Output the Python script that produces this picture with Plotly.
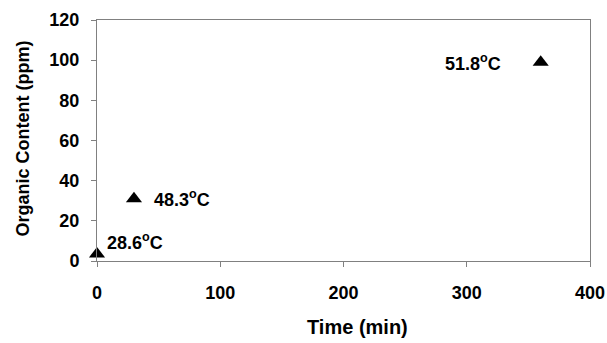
import plotly.graph_objects as go

time_min = [0, 30, 360]
organic_ppm = [3.5, 31, 99]
temp_labels = ["28.6<sup>o</sup>C", "48.3<sup>o</sup>C", "51.8<sup>o</sup>C"]
x_ticks = [0, 100, 200, 300, 400]
y_ticks = [0, 20, 40, 60, 80, 100, 120]

FONT = "Liberation Sans"
FS = 18

fig = go.Figure()
fig.add_trace(go.Scatter(
    x=time_min, y=organic_ppm, mode="markers",
    marker=dict(symbol="triangle-up", size=14, color="black"),
    showlegend=False, cliponaxis=False,
))

# label placement (pixel offsets relative to points)
offsets = [(8, 12, "left"), (18, 0, "left"), (-38, 0, "right")]
for x, y, t, (dx, dy, anc) in zip(time_min, organic_ppm, temp_labels, offsets):
    fig.add_annotation(x=x, y=y, text="<b>" + t + "</b>", showarrow=False,
                       xanchor=anc, yanchor="middle", xshift=dx, yshift=dy,
                       font=dict(family=FONT, size=FS, color="black"))

# axis titles as annotations
fig.add_annotation(x=0.5, y=0, xref="paper", yref="paper", text="<b>Time (min)</b>",
                   showarrow=False, xanchor="center", yanchor="middle",
                   xshift=14, yshift=-66, font=dict(family=FONT, size=20, color="black"))
fig.add_annotation(x=0, y=0.5, xref="paper", yref="paper", text="<b>Organic Content (ppm)</b>",
                   showarrow=False, xanchor="center", yanchor="middle", textangle=-90,
                   xshift=-75, yshift=2, font=dict(family=FONT, size=FS, color="black"))

axis_common = dict(
    showline=True, linecolor="#808080", linewidth=1, mirror=True,
    ticks="outside", ticklen=5, tickcolor="#808080", showgrid=False, zeroline=False,
    tickfont=dict(family=FONT, size=FS, color="black", weight="bold"),
    automargin=False,
)

fig.update_xaxes(range=[0, 400], tickvals=x_ticks, ticklabelstandoff=10, **axis_common)
fig.update_yaxes(range=[0, 120], tickvals=y_ticks, ticklabelstandoff=8, **axis_common)

fig.update_layout(
    width=607, height=343,
    margin=dict(l=97, r=17, t=20, b=82),
    paper_bgcolor="white", plot_bgcolor="white",
    font=dict(family=FONT, size=FS, color="black", weight="bold"),
)

fig.write_html("out.html", config={"displayModeBar": False},
               post_script="document.body.style.margin='0';")
